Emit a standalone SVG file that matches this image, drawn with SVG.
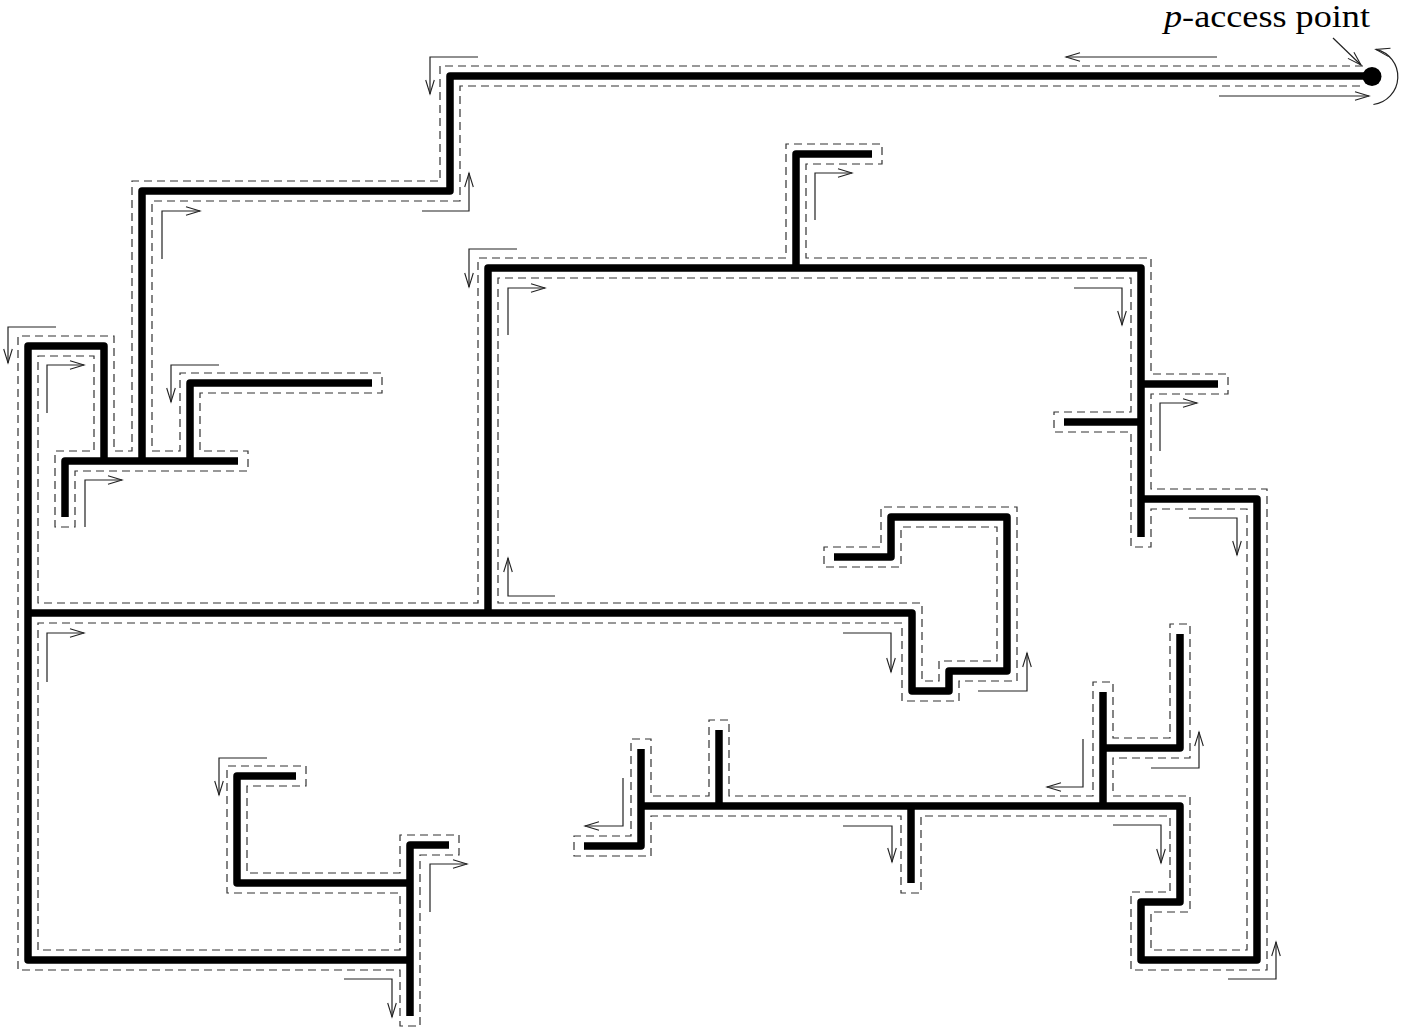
<svg xmlns="http://www.w3.org/2000/svg" width="1411" height="1029" viewBox="0 0 1411 1029">
<style>
.tree{fill:none;stroke:#000;stroke-width:7.5;stroke-linejoin:round;stroke-linecap:butt}
.walk{fill:none;stroke:#333;stroke-width:1.2;stroke-dasharray:8 5}
.arr{fill:none;stroke:#222;stroke-width:1.2;marker-end:url(#ah)}
.lbl{font-family:"Liberation Serif","DejaVu Serif",serif;font-size:31px;fill:#000}
</style>
<defs>
<marker id="ah" markerWidth="17" markerHeight="11" refX="15" refY="5.5" orient="auto" markerUnits="userSpaceOnUse" viewBox="0 0 17 11">
<path d="M1,1.2 L15,5.5 L1,9.8" fill="none" stroke="#222" stroke-width="1.1"/>
</marker>
</defs>
<rect width="1411" height="1029" fill="#fff"/>
<g id="tree">
<path class="tree" d="M1371,76 H450 V191 H142 V461"/>
<path class="tree" d="M65,517 V461 H238"/>
<path class="tree" d="M104,461 V346 H28 V960 H410"/>
<path class="tree" d="M190,461 V383 H372"/>
<path class="tree" d="M28,613 H912 V691 H949 V671 H1007 V517 H891 V557 H834"/>
<path class="tree" d="M488,613 V268 H1141 V537"/>
<path class="tree" d="M796,268 V154 H872"/>
<path class="tree" d="M1141,384 H1218"/>
<path class="tree" d="M1141,422 H1064"/>
<path class="tree" d="M1141,499 H1257 V960 H1141 V902 H1180 V806 H641"/>
<path class="tree" d="M641,749 V846 H584"/>
<path class="tree" d="M719,730 V806"/>
<path class="tree" d="M911,806 V883"/>
<path class="tree" d="M1103,692 V806"/>
<path class="tree" d="M1103,748 H1180 V634"/>
<path class="tree" d="M410,1016 V845 H449"/>
<path class="tree" d="M410,883 H237 V776 H296"/>
</g>
<g id="access-point">
<circle cx="1372" cy="76.5" r="9.5" fill="#000"/>
<text class="lbl" x="1164" y="27" textLength="206" lengthAdjust="spacingAndGlyphs"><tspan font-style="italic">p</tspan>-access point</text>
</g>
<g id="walk">
<path class="walk" d="M1363,66 H440 V181 H132 V451 H114 V336 H18 V970 H400 V1026 H420 V855 H459 V835 H400 V873 H247 V786 H306 V766 H227 V893 H400 V950 H38 V623 H902 V701 H959 V681 H1017 V507 H881 V547 H824 V567 H901 V527 H997 V661 H939 V681 H922 V603 H498 V278 H1131 V412 H1054 V432 H1131 V547 H1151 V509 H1247 V950 H1151 V912 H1190 V796 H1113 V758 H1190 V624 H1170 V738 H1113 V682 H1093 V796 H729 V720 H709 V796 H651 V739 H631 V836 H574 V856 H651 V816 H901 V893 H921 V816 H1170 V892 H1131 V970 H1267 V489 H1151 V394 H1228 V374 H1151 V258 H806 V164 H882 V144 H786 V258 H478 V603 H38 V356 H94 V451 H55 V527 H75 V471 H248 V451 H200 V393 H382 V373 H180 V451 H152 V201 H460 V86 H1363"/>
</g>
<g id="connectors">
<path class="arr" d="M1217,57 H1066"/>
<path class="arr" d="M1219,96 H1369"/>
<path class="arr" d="M1373.4,104.5 A28,28 0 0 0 1375.9,49.4"/>
<path class="arr" d="M1333,38 L1361,65"/>
<path class="arr" d="M478,57 H430 V94"/>
<path class="arr" d="M422,211 H469 V173"/>
<path class="arr" d="M162,259 V211 H200"/>
<path class="arr" d="M219,365 H171 V402"/>
<path class="arr" d="M56,327 H8 V363"/>
<path class="arr" d="M47,413 V365 H84"/>
<path class="arr" d="M85,527 V480 H122"/>
<path class="arr" d="M815,220 V173 H852"/>
<path class="arr" d="M517,249 H469 V287"/>
<path class="arr" d="M508,335 V288 H545"/>
<path class="arr" d="M1074,288 H1122 V325"/>
<path class="arr" d="M1160,451 V403 H1197"/>
<path class="arr" d="M1189,518 H1237 V555"/>
<path class="arr" d="M555,596 H508 V558"/>
<path class="arr" d="M47,682 V633 H84"/>
<path class="arr" d="M843,633 H891 V672"/>
<path class="arr" d="M978,691 H1027 V653"/>
<path class="arr" d="M267,758 H219 V795"/>
<path class="arr" d="M430,912 V864 H467"/>
<path class="arr" d="M344,979 H392 V1017"/>
<path class="arr" d="M623,778 V826 H585"/>
<path class="arr" d="M843,826 H892 V862"/>
<path class="arr" d="M1083,739 V787 H1047"/>
<path class="arr" d="M1151,768 H1199 V732"/>
<path class="arr" d="M1113,825 H1161 V863"/>
<path class="arr" d="M1228,979 H1276 V942"/>
</g>
</svg>
